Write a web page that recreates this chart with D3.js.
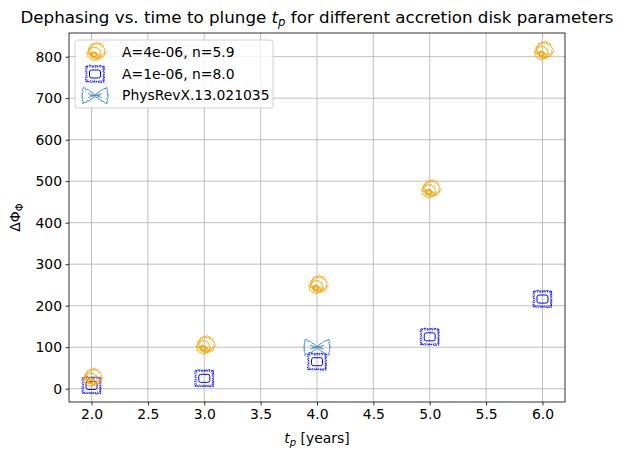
<!DOCTYPE html>
<html>
<head>
<meta charset="utf-8">
<script src="https://cdn.jsdelivr.net/npm/d3@7"></script>
<style>
body { margin: 0; background: #fff; }
text { font-family: "DejaVu Sans", sans-serif; fill: #000; }
</style>
</head>
<body>
<svg width="623" height="461"></svg>
<script>
// data
var tp = [2.0, 3.0, 4.0, 5.0, 6.0];
var dphiA = [25, 103, 248, 479, 812];   // A=4e-06, n=5.9
var dphiB = [8, 25, 65, 125, 216];      // A=1e-06, n=8.0
var refT = [4.0];
var refPhi = [100];                     // PhysRevX.13.021035
var xTicks = [2.0, 2.5, 3.0, 3.5, 4.0, 4.5, 5.0, 5.5, 6.0];
var yTicks = [0, 100, 200, 300, 400, 500, 600, 700, 800];

var svg = d3.select("svg");
var m = {left: 69, right: 565, top: 33, bottom: 402};

var x = d3.scaleLinear().domain([1.8, 6.2]).range([m.left, m.right]);
var y = d3.scaleLinear().domain([-32, 857]).range([m.bottom, m.top]);

// grid
var g = svg.append("g");
g.selectAll(".gx").data(xTicks).enter().append("line")
  .attr("x1", d => x(d)).attr("x2", d => x(d))
  .attr("y1", m.top).attr("y2", m.bottom)
  .attr("stroke", "#b0b0b0").attr("stroke-width", 0.8);
g.selectAll(".gy").data(yTicks).enter().append("line")
  .attr("y1", d => y(d)).attr("y2", d => y(d))
  .attr("x1", m.left).attr("x2", m.right)
  .attr("stroke", "#b0b0b0").attr("stroke-width", 0.8);

// axes
var xAxis = d3.axisBottom(x).tickValues(xTicks).tickFormat(d3.format(".1f")).tickSizeOuter(0).tickSize(3.5).tickPadding(3.5);
var yAxis = d3.axisLeft(y).tickValues(yTicks).tickSizeOuter(0).tickSize(3.5).tickPadding(3.5);
var ax = svg.append("g").attr("transform", "translate(0," + m.bottom + ")").call(xAxis);
var ay = svg.append("g").attr("transform", "translate(" + m.left + ",0)").call(yAxis);
[ax, ay].forEach(function(a) {
  a.select(".domain").remove();
  a.selectAll("text").style("font-size", "13.9px").style("font-family", "DejaVu Sans");
  a.selectAll("line").attr("stroke-width", 0.8);
});

svg.append("rect").attr("x", m.left).attr("y", m.top)
  .attr("width", m.right - m.left).attr("height", m.bottom - m.top)
  .attr("fill", "none").attr("stroke", "#000").attr("stroke-width", 0.8);

// sketchy marker shapes, drawn around (0,0)
function wobbly(pts, amp, freq) {
  return pts.map(function(p, i) {
    return [p[0] + amp * Math.sin(i * freq), p[1] + amp * Math.cos(i * freq * 1.3)];
  });
}
function circlePts(cx, cy, r, n, turns, shrink) {
  var out = [];
  for (var i = 0; i <= n; i++) {
    var a = i / n * Math.PI * 2 * turns;
    var rr = r * (1 - shrink * i / n);
    out.push([cx + rr * Math.cos(a), cy + rr * Math.sin(a) * 0.95]);
  }
  return out;
}
var line = d3.line().curve(d3.curveCatmullRom);

function orangeMarker(sel) {
  var c = "#ffa500";
  sel.append("path").attr("d", line(wobbly(circlePts(2, -2, 9, 60, 1.9, 0.25), 0.6, 2.1)))
    .attr("fill", "none").attr("stroke", c).attr("stroke-width", 1);
  sel.append("path").attr("d", line(wobbly(circlePts(-1, 1, 7, 40, 1.2, 0.1), 0.5, 1.7)))
    .attr("fill", "none").attr("stroke", c).attr("stroke-width", 1);
  sel.append("path").attr("d", line(wobbly(circlePts(-1, 2, 3, 24, 2, 0.4), 0.3, 2.5)))
    .attr("fill", "none").attr("stroke", c).attr("stroke-width", 1.2);
  sel.append("path").attr("d", "M-6,2 Q-1,-2 4,3")
    .attr("fill", "none").attr("stroke", c).attr("stroke-width", 1.2);
}

function rectPts(w, h, n) {
  var pts = [], per = 2 * (w + h);
  for (var i = 0; i <= n; i++) {
    var s = i / n * per, px, py;
    if (s < w) { px = -w / 2 + s; py = -h / 2; }
    else if (s < w + h) { px = w / 2; py = -h / 2 + (s - w); }
    else if (s < 2 * w + h) { px = w / 2 - (s - w - h); py = h / 2; }
    else { px = -w / 2; py = h / 2 - (s - 2 * w - h); }
    pts.push([px, py]);
  }
  return pts;
}
function blueMarker(sel) {
  var c = "#0000ff";
  sel.append("path").attr("d", d3.line()(wobbly(rectPts(18, 16, 68), 0.8, 2.4)))
    .attr("fill", "none").attr("stroke", c).attr("stroke-width", 0.9).attr("stroke-dasharray", "2,1");
  sel.append("path").attr("d", d3.line()(wobbly(rectPts(16, 14, 60), 0.5, 3.1)))
    .attr("fill", "none").attr("stroke", c).attr("stroke-width", 0.7).attr("stroke-dasharray", "1.5,1.5");
  sel.append("rect").attr("x", -5.5).attr("y", -4).attr("width", 11).attr("height", 8).attr("rx", 2)
    .attr("fill", "none").attr("stroke", c).attr("stroke-width", 1);
}

function bowMarker(sel) {
  var c = "#3a86c8";
  var pts = [[-12, -8], [-6, -5], [0, -1], [6, -5], [12, -8], [12.5, -3], [13, 0], [12.5, 3], [12, 8],
             [6, 5], [0, 1], [-6, 5], [-12, 8], [-12.5, 3], [-13, 0], [-12.5, -3], [-12, -8]];
  var dense = [];
  for (var i = 0; i < pts.length - 1; i++) {
    for (var k = 0; k < 4; k++) {
      var t = k / 4;
      dense.push([pts[i][0] + (pts[i + 1][0] - pts[i][0]) * t, pts[i][1] + (pts[i + 1][1] - pts[i][1]) * t]);
    }
  }
  dense.push(pts[0]);
  sel.append("path").attr("d", line(wobbly(dense, 0.5, 2.2)))
    .attr("fill", "none").attr("stroke", c).attr("stroke-width", 1);
  sel.append("path").attr("d", "M-7,-2 L7,2 M-7,2 L7,-2 M-5,0 L5,0")
    .attr("fill", "none").attr("stroke", c).attr("stroke-width", 0.8);
}

var plot = svg.append("g");
plot.selectAll(".mb").data(tp.map((t, i) => [t, dphiB[i]])).enter().append("g")
  .attr("transform", d => "translate(" + x(d[0]) + "," + y(d[1]) + ")")
  .each(function() { blueMarker(d3.select(this)); });
plot.selectAll(".ma").data(tp.map((t, i) => [t, dphiA[i]])).enter().append("g")
  .attr("transform", d => "translate(" + x(d[0]) + "," + y(d[1]) + ")")
  .each(function() { orangeMarker(d3.select(this)); });
plot.selectAll(".mr").data(refT.map((t, i) => [t, refPhi[i]])).enter().append("g")
  .attr("transform", d => "translate(" + x(d[0]) + "," + y(d[1]) + ")")
  .each(function() { bowMarker(d3.select(this)); });

// legend
var leg = svg.append("g").attr("transform", "translate(75,40)");
leg.append("rect").attr("width", 198).attr("height", 68).attr("rx", 3)
  .attr("fill", "#fff").attr("fill-opacity", 0.8).attr("stroke", "#d0d0d0").attr("stroke-width", 1);
var items = [["A=4e-06, n=5.9", orangeMarker], ["A=1e-06, n=8.0", blueMarker], ["PhysRevX.13.021035", bowMarker]];
items.forEach(function(it, i) {
  var row = leg.append("g").attr("transform", "translate(20," + (12.5 + i * 21.5) + ")");
  it[1](row.append("g"));
  row.append("text").attr("x", 27).attr("y", 0).attr("dy", "0.35em")
    .style("font-size", "13.9px").text(it[0]);
});

// title and labels
var title = svg.append("text").attr("x", (m.left + m.right) / 2).attr("y", 23)
  .attr("text-anchor", "middle").style("font-size", "16.7px");
title.append("tspan").text("Dephasing vs. time to plunge ");
title.append("tspan").style("font-style", "italic").text("t");
title.append("tspan").attr("dy", 3).style("font-size", "11.7px").style("font-style", "italic").text("p");
title.append("tspan").attr("dy", -3).text(" for different accretion disk parameters");

var xl = svg.append("text").attr("x", (m.left + m.right) / 2).attr("y", 443)
  .attr("text-anchor", "middle").style("font-size", "13.9px");
xl.append("tspan").style("font-style", "italic").text("t");
xl.append("tspan").attr("dy", 3).style("font-size", "10px").style("font-style", "italic").text("p");
xl.append("tspan").attr("dy", -3).text(" [years]");

var yl = svg.append("text").attr("transform", "translate(20," + ((m.top + m.bottom) / 2) + ") rotate(-90)")
  .attr("text-anchor", "middle").style("font-size", "13.9px");
yl.append("tspan").text("ΔΦ");
yl.append("tspan").attr("dy", 3).style("font-size", "10px").text("Φ");
</script>
</body>
</html>
